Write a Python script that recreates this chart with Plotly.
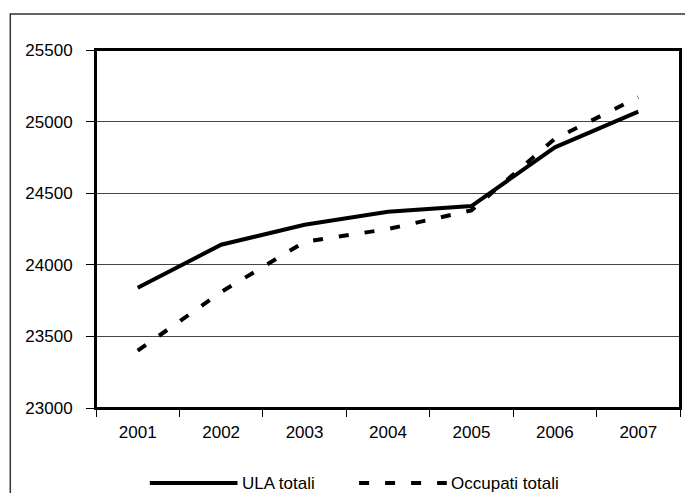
import plotly.graph_objects as go

years = ["2001", "2002", "2003", "2004", "2005", "2006", "2007"]
ula_totali = [23840, 24140, 24280, 24370, 24410, 24820, 25070]
occupati_totali = [23400, 23810, 24160, 24250, 24380, 24880, 25170]
y_ticks = [23000, 23500, 24000, 24500, 25000, 25500]
y_tick_labels = ["23000", "23500", "24000", "24500", "25000", "25500"]
series_names = ["ULA totali", "Occupati totali"]

# the page body adds an 8px margin; work in target-screen pixels and subtract it
OFF = 8
W, H = 693 - OFF, 501 - 2 * OFF
L, R, T, B = 96 - OFF, 682 - OFF, 50 - OFF, 408 - OFF
pw, ph = R - L, B - T

def px(x):
    return (x - OFF - L) / pw

def py(y):
    return (B - (y - OFF)) / ph

FONT = "Liberation Sans, Arial, sans-serif"
FS = 17
LEG_Y = 483

fig = go.Figure()
fig.add_trace(go.Scatter(x=years, y=ula_totali, mode="lines", name=series_names[0],
                         line=dict(color="black", width=4), showlegend=False))
fig.add_trace(go.Scatter(x=years, y=occupati_totali, mode="lines", name=series_names[1],
                         line=dict(color="black", width=4, dash="10px,16px"), showlegend=False))

shapes = [
    # outer chart border
    dict(type="rect", xref="paper", yref="paper", x0=px(10), x1=px(720), y0=py(14), y1=py(540),
         line=dict(color="#333333", width=1.5), layer="below"),
    # plot-area frame
    dict(type="rect", xref="paper", yref="paper", x0=0, x1=1, y0=0, y1=1,
         line=dict(color="black", width=2), layer="above"),
    # legend samples
    dict(type="line", xref="paper", yref="paper", x0=px(150), x1=px(238), y0=py(LEG_Y), y1=py(LEG_Y),
         line=dict(color="black", width=4)),
    dict(type="line", xref="paper", yref="paper", x0=px(360), x1=px(448), y0=py(LEG_Y), y1=py(LEG_Y),
         line=dict(color="black", width=4, dash="10px,16px")),
]
annotations = [
    dict(xref="paper", yref="paper", x=px(240), y=py(LEG_Y), text=series_names[0], showarrow=False,
         xanchor="left", yanchor="middle", font=dict(family=FONT, size=FS, color="black")),
    dict(xref="paper", yref="paper", x=px(450), y=py(LEG_Y), text=series_names[1], showarrow=False,
         xanchor="left", yanchor="middle", font=dict(family=FONT, size=FS, color="black")),
]

fig.update_layout(
    width=W, height=H,
    margin=dict(l=L, r=W - R, t=T, b=H - B, pad=0),
    paper_bgcolor="white", plot_bgcolor="white",
    font=dict(family=FONT, size=FS, color="black"),
    shapes=shapes, annotations=annotations,
    showlegend=False,
)
fig.update_xaxes(
    type="category", range=[-0.5, 6.5],
    showline=True, mirror=True, linecolor="black", linewidth=2,
    showgrid=False, ticks="outside", tickson="boundaries", ticklen=7,
    tickcolor="black", tickwidth=1, ticklabelstandoff=8,
    tickfont=dict(family=FONT, size=FS, color="black"),
)
fig.update_yaxes(
    range=[23000, 25500], tickvals=y_ticks, ticktext=y_tick_labels,
    showline=True, mirror=True, linecolor="black", linewidth=2,
    showgrid=True, gridcolor="#444444", gridwidth=1, zeroline=False,
    ticks="outside", ticklen=8, tickcolor="black", tickwidth=1, ticklabelstandoff=10,
    tickfont=dict(family=FONT, size=FS, color="black"),
)

fig.write_html("out.html")
